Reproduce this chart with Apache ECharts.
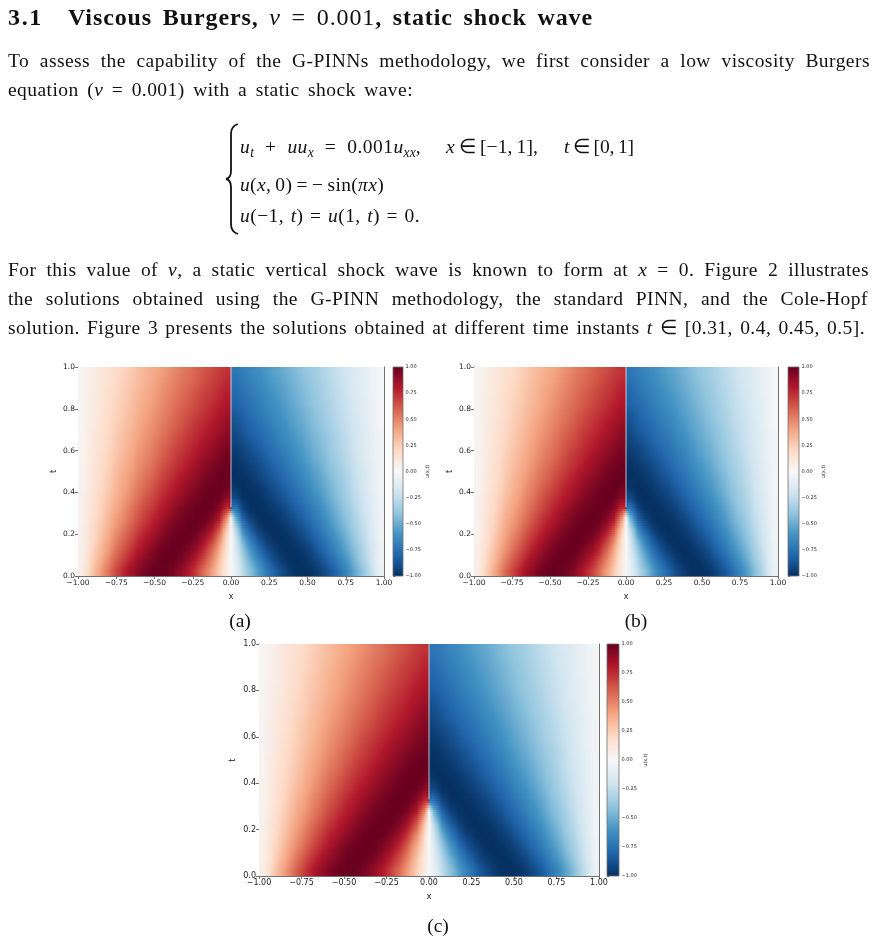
<!DOCTYPE html>
<html><head><meta charset="utf-8">
<script src="https://cdn.jsdelivr.net/npm/echarts/dist/echarts.min.js"></script>
<style>
html,body{margin:0;padding:0;background:#fff;}
#page{position:relative;width:878px;height:944px;overflow:hidden;background:#fff;}
#chart{position:absolute;left:0;top:0;width:878px;height:944px;z-index:1;}
.ln{position:absolute;z-index:2;white-space:nowrap;font-family:"Liberation Serif","Times New Roman",serif;
    font-size:19.5px;line-height:19.5px;letter-spacing:0.45px;color:#111;}
.ln sub{font-size:0.7em;line-height:0;vertical-align:-0.28em;letter-spacing:0;}
.hd{font-size:24px;line-height:24px;font-weight:bold;letter-spacing:0.9px;}
.hd m{font-weight:normal;}
.cap{position:absolute;z-index:2;text-align:center;font-family:"Liberation Serif","Times New Roman",serif;font-size:19.5px;line-height:19.5px;color:#111;}
svg{position:absolute;left:0;top:0;z-index:2;}
</style></head>
<body><div id="page">
<div id="chart"></div>

<div class="ln hd" data-w="35" style="left:8px;top:5px;">3.1</div>
<div class="ln hd" data-w="525" style="left:68px;top:5px;">Viscous Burgers, <m><i>ν</i></m> <m>=</m> <m>0.001</m>, static shock wave</div>

<div class="ln" data-w="862" style="left:8px;top:51px;">To assess the capability of the G-PINNs methodology, we first consider a low viscosity Burgers</div>
<div class="ln" data-w="405" style="left:8px;top:80px;">equation (<i>ν</i> = 0.001) with a static shock wave:</div>

<svg width="878" height="944"><path d="M238 124 Q231 126 231 134 L231 171 Q231 178 226 179 Q231 180 231 187 L231 224 Q231 232 238 234" stroke="#111" stroke-width="1.8" fill="none"/></svg>
<div class="ln" data-w="181" style="left:240px;top:137px;"><i>u<sub>t</sub></i> + <i>uu<sub>x</sub></i> = 0.001<i>u<sub>xx</sub></i>,</div>
<div class="ln" data-w="92" style="left:446px;top:137px;"><i>x</i> ∈ [−1, 1],</div>
<div class="ln" data-w="70" style="left:564px;top:137px;"><i>t</i> ∈ [0, 1]</div>
<div class="ln" data-w="144" style="left:240px;top:175px;"><i>u</i>(<i>x</i>, 0) = − sin(<i>πx</i>)</div>
<div class="ln" data-w="180" style="left:240px;top:206px;"><i>u</i>(−1, <i>t</i>) = <i>u</i>(1, <i>t</i>) = 0.</div>

<div class="ln" data-w="861" style="left:8px;top:260px;">For this value of <i>ν</i>, a static vertical shock wave is known to form at <i>x</i> = 0. Figure 2 illustrates</div>
<div class="ln" data-w="860" style="left:8px;top:289px;">the solutions obtained using the G-PINN methodology, the standard PINN, and the Cole-Hopf</div>
<div class="ln" data-w="857" style="left:8px;top:318px;">solution. Figure 3 presents the solutions obtained at different time instants <i>t</i> ∈ [0.31, 0.4, 0.45, 0.5].</div>

<div class="cap" style="left:210px;top:611px;width:60px;">(a)</div>
<div class="cap" style="left:606px;top:611px;width:60px;">(b)</div>
<div class="cap" style="left:408px;top:916px;width:60px;">(c)</div>
</div>
<script>
// ---------------- data ----------------
const xCols = [-0.975,-0.925,-0.875,-0.825,-0.775,-0.725,-0.675,-0.625,-0.575,-0.525,-0.475,-0.425,-0.375,-0.325,-0.275,-0.225,-0.175,-0.125,-0.075,-0.025,
               0.025,0.075,0.125,0.175,0.225,0.275,0.325,0.375,0.425,0.475,0.525,0.575,0.625,0.675,0.725,0.775,0.825,0.875,0.925,0.975];
const tRows = [0.025,0.075,0.125,0.175,0.225,0.275,0.325,0.375,0.425,0.475,0.525,0.575,0.625,0.675,0.725,0.775,0.825,0.875,0.925,0.975];
// u(x,t), one row per t (ascending), one column per x
const uField = [
 [0.07,0.22,0.36,0.49,0.61,0.72,0.82,0.89,0.95,0.99,1.00,0.99,0.95,0.89,0.80,0.69,0.56,0.41,0.25,0.08,-0.08,-0.25,-0.41,-0.56,-0.69,-0.80,-0.89,-0.95,-0.99,-1.00,-0.99,-0.95,-0.89,-0.82,-0.72,-0.61,-0.49,-0.36,-0.22,-0.07],
 [0.06,0.19,0.31,0.43,0.55,0.65,0.75,0.83,0.90,0.95,0.99,1.00,0.99,0.95,0.88,0.78,0.65,0.49,0.30,0.10,-0.10,-0.30,-0.49,-0.65,-0.78,-0.88,-0.95,-0.99,-1.00,-0.99,-0.95,-0.90,-0.83,-0.75,-0.65,-0.55,-0.43,-0.31,-0.19,-0.06],
 [0.06,0.17,0.28,0.39,0.49,0.59,0.68,0.77,0.84,0.91,0.96,0.99,1.00,0.99,0.94,0.87,0.75,0.58,0.37,0.13,-0.13,-0.37,-0.58,-0.75,-0.87,-0.94,-0.99,-1.00,-0.99,-0.96,-0.91,-0.84,-0.77,-0.68,-0.59,-0.49,-0.39,-0.28,-0.17,-0.06],
 [0.05,0.15,0.25,0.35,0.45,0.54,0.63,0.71,0.79,0.85,0.91,0.96,0.99,1.00,0.99,0.94,0.85,0.70,0.48,0.17,-0.17,-0.48,-0.70,-0.85,-0.94,-0.99,-1.00,-0.99,-0.96,-0.91,-0.85,-0.79,-0.71,-0.63,-0.54,-0.45,-0.35,-0.25,-0.15,-0.05],
 [0.05,0.14,0.23,0.32,0.41,0.49,0.58,0.66,0.73,0.80,0.86,0.92,0.96,0.99,1.00,0.99,0.94,0.83,0.63,0.26,-0.26,-0.63,-0.83,-0.94,-0.99,-1.00,-0.99,-0.96,-0.92,-0.86,-0.80,-0.73,-0.66,-0.58,-0.49,-0.41,-0.32,-0.23,-0.14,-0.05],
 [0.04,0.13,0.21,0.29,0.38,0.45,0.53,0.61,0.68,0.75,0.81,0.87,0.92,0.96,0.99,1.00,0.99,0.93,0.80,0.45,-0.45,-0.80,-0.93,-0.99,-1.00,-0.99,-0.96,-0.92,-0.87,-0.81,-0.75,-0.68,-0.61,-0.53,-0.45,-0.38,-0.29,-0.21,-0.13,-0.04],
 [0.04,0.12,0.19,0.27,0.35,0.42,0.50,0.57,0.64,0.70,0.77,0.82,0.88,0.93,0.96,0.99,1.00,0.99,0.92,0.74,-0.74,-0.92,-0.99,-1.00,-0.99,-0.96,-0.93,-0.88,-0.82,-0.77,-0.70,-0.64,-0.57,-0.50,-0.42,-0.35,-0.27,-0.19,-0.12,-0.04],
 [0.04,0.11,0.18,0.25,0.32,0.39,0.46,0.53,0.60,0.66,0.72,0.78,0.83,0.88,0.93,0.96,0.99,1.00,0.99,0.91,-0.91,-0.99,-1.00,-0.99,-0.96,-0.93,-0.88,-0.83,-0.78,-0.72,-0.66,-0.60,-0.53,-0.46,-0.39,-0.32,-0.25,-0.18,-0.11,-0.04],
 [0.03,0.10,0.17,0.23,0.30,0.37,0.43,0.50,0.56,0.62,0.68,0.74,0.79,0.84,0.89,0.93,0.97,0.99,1.00,0.98,-0.98,-1.00,-0.99,-0.97,-0.93,-0.89,-0.84,-0.79,-0.74,-0.68,-0.62,-0.56,-0.50,-0.43,-0.37,-0.30,-0.23,-0.17,-0.10,-0.03],
 [0.03,0.10,0.16,0.22,0.28,0.35,0.41,0.47,0.53,0.58,0.64,0.70,0.75,0.80,0.85,0.89,0.93,0.97,0.99,1.00,-1.00,-0.99,-0.97,-0.93,-0.89,-0.85,-0.80,-0.75,-0.70,-0.64,-0.58,-0.53,-0.47,-0.41,-0.35,-0.28,-0.22,-0.16,-0.10,-0.03],
 [0.03,0.09,0.15,0.21,0.27,0.33,0.38,0.44,0.50,0.55,0.61,0.66,0.71,0.76,0.81,0.86,0.90,0.94,0.97,0.99,-0.99,-0.97,-0.94,-0.90,-0.86,-0.81,-0.76,-0.71,-0.66,-0.61,-0.55,-0.50,-0.44,-0.38,-0.33,-0.27,-0.21,-0.15,-0.09,-0.03],
 [0.03,0.08,0.14,0.20,0.25,0.31,0.36,0.42,0.47,0.52,0.57,0.63,0.68,0.73,0.77,0.82,0.86,0.90,0.94,0.97,-0.97,-0.94,-0.90,-0.86,-0.82,-0.77,-0.73,-0.68,-0.63,-0.57,-0.52,-0.47,-0.42,-0.36,-0.31,-0.25,-0.20,-0.14,-0.08,-0.03],
 [0.03,0.08,0.13,0.19,0.24,0.29,0.34,0.40,0.45,0.50,0.55,0.60,0.65,0.69,0.74,0.78,0.83,0.87,0.91,0.94,-0.94,-0.91,-0.87,-0.83,-0.78,-0.74,-0.69,-0.65,-0.60,-0.55,-0.50,-0.45,-0.40,-0.34,-0.29,-0.24,-0.19,-0.13,-0.08,-0.03],
 [0.03,0.08,0.13,0.18,0.23,0.28,0.33,0.38,0.43,0.47,0.52,0.57,0.62,0.66,0.71,0.75,0.79,0.83,0.87,0.91,-0.91,-0.87,-0.83,-0.79,-0.75,-0.71,-0.66,-0.62,-0.57,-0.52,-0.47,-0.43,-0.38,-0.33,-0.28,-0.23,-0.18,-0.13,-0.08,-0.03],
 [0.02,0.07,0.12,0.17,0.22,0.26,0.31,0.36,0.41,0.45,0.50,0.54,0.59,0.63,0.68,0.72,0.76,0.80,0.84,0.88,-0.88,-0.84,-0.80,-0.76,-0.72,-0.68,-0.63,-0.59,-0.54,-0.50,-0.45,-0.41,-0.36,-0.31,-0.26,-0.22,-0.17,-0.12,-0.07,-0.02],
 [0.02,0.07,0.11,0.16,0.21,0.25,0.30,0.34,0.39,0.43,0.48,0.52,0.56,0.61,0.65,0.69,0.73,0.77,0.81,0.85,-0.85,-0.81,-0.77,-0.73,-0.69,-0.65,-0.61,-0.56,-0.52,-0.48,-0.43,-0.39,-0.34,-0.30,-0.25,-0.21,-0.16,-0.11,-0.07,-0.02],
 [0.02,0.07,0.11,0.15,0.20,0.24,0.28,0.33,0.37,0.41,0.45,0.50,0.54,0.58,0.62,0.66,0.70,0.74,0.78,0.81,-0.81,-0.78,-0.74,-0.70,-0.66,-0.62,-0.58,-0.54,-0.50,-0.45,-0.41,-0.37,-0.33,-0.28,-0.24,-0.20,-0.15,-0.11,-0.07,-0.02],
 [0.02,0.06,0.10,0.15,0.19,0.23,0.27,0.31,0.36,0.40,0.44,0.48,0.52,0.56,0.60,0.64,0.68,0.71,0.75,0.79,-0.79,-0.75,-0.71,-0.68,-0.64,-0.60,-0.56,-0.52,-0.48,-0.44,-0.40,-0.36,-0.31,-0.27,-0.23,-0.19,-0.15,-0.10,-0.06,-0.02],
 [0.02,0.06,0.10,0.14,0.18,0.22,0.26,0.30,0.34,0.38,0.42,0.46,0.50,0.54,0.57,0.61,0.65,0.69,0.72,0.76,-0.76,-0.72,-0.69,-0.65,-0.61,-0.57,-0.54,-0.50,-0.46,-0.42,-0.38,-0.34,-0.30,-0.26,-0.22,-0.18,-0.14,-0.10,-0.06,-0.02],
 [0.02,0.06,0.10,0.14,0.17,0.21,0.25,0.29,0.33,0.37,0.40,0.44,0.48,0.52,0.55,0.59,0.63,0.66,0.70,0.73,-0.73,-0.70,-0.66,-0.63,-0.59,-0.55,-0.52,-0.48,-0.44,-0.40,-0.37,-0.33,-0.29,-0.25,-0.21,-0.17,-0.14,-0.10,-0.06,-0.02]
];
// thin viscous shock layer (u ≈ 0) seen along x = 0 once the shock has formed
const shockLine = [[0, 0.33], [0, 1.0]];
const xTickStep = 0.25, tTickStep = 0.2, cbTickStep = 0.25;
const panelFields = [uField, uField, uField];   // (a) G-PINN, (b) PINN, (c) Cole-Hopf

// ---------------- layout / style ----------------
const RDBU_R = ['#053061','#2166ac','#4393c3','#92c5de','#d1e5f0','#f7f7f7','#fddbc7','#f4a582','#d6604d','#b2182b','#67001f'];
const RGB = RDBU_R.map(h => [1, 3, 5].map(i => parseInt(h.substr(i, 2), 16)));
const AX = '#707070', TXT = '#222', FONT = 'DejaVu Sans';
const layout = [
  {g:{left:78, top:367, width:306, height:209}, cb:{left:393, top:367, width:10, height:209}, fs:7.5, xGap:17, yGap:20, cGap:21},
  {g:{left:474, top:367, width:304, height:209}, cb:{left:788, top:367, width:11, height:209}, fs:7.5, xGap:17, yGap:20, cGap:22},
  {g:{left:259, top:644, width:340, height:232}, cb:{left:607, top:644, width:12, height:232}, fs:8, xGap:16, yGap:22, cGap:24}
];
const minus = s => s.replace('-', '\u2212');
const DX = xCols[1] - xCols[0], DT = tRows[1] - tRows[0];
const STEP_PX = 2, JUMP = 1.0;

function cmap(v) {
  const p = (Math.max(-1, Math.min(1, v)) + 1) / 2 * (RGB.length - 1);
  const i = Math.min(Math.floor(p), RGB.length - 2), f = p - i;
  const a = RGB[i], b = RGB[i + 1];
  return 'rgb(' + [0, 1, 2].map(k => Math.round(a[k] + (b[k] - a[k]) * f)).join(',') + ')';
}
// smooth (gouraud-like) shading inside each cell, without blending across the shock
function profile(F, r, c) {
  const v = F[r][c];
  const edge = s => {
    const c2 = c + s;
    if (c2 < 0 || c2 >= F[r].length) return v;
    const w = F[r][c2];
    return Math.abs(w - v) < JUMP ? (v + w) / 2 : v;
  };
  return [edge(-1), v, edge(1)];
}
function makeRenderer(F) {
  const nC = xCols.length, nR = tRows.length;
  return function (params, api) {
    const idx = params.dataIndex, r = Math.floor(idx / nC), c = idx % nC;
    const x = api.value(0), t = api.value(1);
    const p0 = api.coord([x - DX / 2, t + DT / 2]);
    const p1 = api.coord([x + DX / 2, t - DT / 2]);
    const X0 = Math.round(p0[0]), X1 = Math.round(p1[0]), Y0 = Math.round(p0[1]), Y1 = Math.round(p1[1]);
    const own = profile(F, r, c);
    const kids = [];
    for (let y = Y0; y < Y1; y += STEP_PX) {
      const y1 = Math.min(Y1, y + STEP_PX);
      const s = ((y + y1) / 2 - p0[1]) / (p1[1] - p0[1]);   // 0 = top of cell
      const d = 0.5 - s;
      const rn = Math.max(0, Math.min(nR - 1, r + (d > 0 ? 1 : -1)));
      const nb = profile(F, rn, c), wt = Math.min(0.5, Math.abs(d));
      const vals = own.map((v, i) => (1 - wt) * v + wt * nb[i]);
      kids.push({type:'rect', shape:{x:X0, y:y, width:X1 - X0, height:y1 - y},
        style:{fill:new echarts.graphic.LinearGradient(0, 0, 1, 0, [
          {offset:0, color:cmap(vals[0])}, {offset:0.5, color:cmap(vals[1])}, {offset:1, color:cmap(vals[2])}])}});
    }
    return {type:'group', children:kids};
  };
}
function renderBar(params, api) {
  const cs = params.coordSys;
  const stops = RDBU_R.slice().reverse().map((c, i) => ({offset: i / (RDBU_R.length - 1), color: c}));
  return {type:'rect', shape:{x:cs.x, y:cs.y, width:cs.width, height:cs.height},
          style:{fill: new echarts.graphic.LinearGradient(0, 0, 0, 1, stops), stroke: AX, lineWidth: 0.8}};
}
function cells(field) {
  const out = [];
  tRows.forEach((t, r) => xCols.forEach((x, c) => out.push([x, t, field[r][c]])));
  return out;
}

const grids = [], xAxes = [], yAxes = [], series = [];
layout.forEach((L, i) => {
  const gi = grids.length;
  grids.push(Object.assign({containLabel:false}, L.g));
  const line = {show:true, onZero:false, lineStyle:{color:AX, width:1}};
  xAxes.push({gridIndex:gi, type:'value', min:-1, max:1, interval:xTickStep, position:'bottom',
    axisLine:line, axisTick:{show:true, length:3, lineStyle:{color:AX}}, splitLine:{show:false},
    axisLabel:{fontFamily:FONT, fontSize:L.fs, color:TXT, margin:3, formatter:v => minus(v.toFixed(2))},
    name:'x', nameLocation:'middle', nameGap:L.xGap, nameTextStyle:{fontFamily:FONT, fontSize:L.fs + 0.5, color:TXT}});
  const xb = xAxes.length - 1;
  xAxes.push({gridIndex:gi, type:'value', min:-1, max:1, position:'top', axisLine:line,
    axisTick:{show:false}, axisLabel:{show:false}, splitLine:{show:false}});
  yAxes.push({gridIndex:gi, type:'value', min:0, max:1, interval:tTickStep, position:'left',
    axisLine:line, axisTick:{show:true, length:3, lineStyle:{color:AX}}, splitLine:{show:false},
    axisLabel:{fontFamily:FONT, fontSize:L.fs, color:TXT, margin:3, formatter:v => v.toFixed(1)},
    name:'t', nameLocation:'middle', nameGap:L.yGap, nameRotate:90, nameTextStyle:{fontFamily:FONT, fontSize:L.fs + 0.5, color:TXT}});
  const yl = yAxes.length - 1;
  yAxes.push({gridIndex:gi, type:'value', min:0, max:1, position:'right', axisLine:line,
    axisTick:{show:false}, axisLabel:{show:false}, splitLine:{show:false}});
  series.push({type:'custom', name:'u' + i, xAxisIndex:xb, yAxisIndex:yl, renderItem:makeRenderer(panelFields[i]),
    data:cells(panelFields[i]), clip:true, silent:true, z:1});
  series.push({type:'line', xAxisIndex:xb, yAxisIndex:yl, data:shockLine, symbol:'none', silent:true, z:2,
    lineStyle:{color:'rgba(240,240,240,0.75)', width:1}});

  // colorbar
  const ci = grids.length;
  grids.push(Object.assign({containLabel:false}, L.cb));
  xAxes.push({gridIndex:ci, type:'value', min:0, max:1, show:false});
  yAxes.push({gridIndex:ci, type:'value', min:-1, max:1, interval:cbTickStep, position:'right',
    axisLine:{show:false}, axisTick:{show:true, length:2.5, lineStyle:{color:AX}}, splitLine:{show:false},
    axisLabel:{fontFamily:FONT, fontSize:5, color:TXT, margin:2.5, formatter:v => minus(v.toFixed(2))},
    name:'u(x,t)', nameLocation:'middle', nameGap:L.cGap, nameRotate:90, nameTextStyle:{fontFamily:FONT, fontSize:5, color:TXT}});
  series.push({type:'custom', xAxisIndex:xAxes.length - 1, yAxisIndex:yAxes.length - 1, renderItem:renderBar,
    data:[[0.5, 0]], silent:true, z:1});
});

const chart = echarts.init(document.getElementById('chart'), null, {renderer:'canvas'});
chart.setOption({animation:false, backgroundColor:'transparent', grid:grids, xAxis:xAxes, yAxis:yAxes, series:series});

// justify each text line to its measured width in the reference
document.querySelectorAll('.ln').forEach(el => {
  const target = parseFloat(el.dataset.w);
  let natural = el.getBoundingClientRect().width;
  const chars = el.textContent.length;
  const n = (el.textContent.match(/ /g) || []).length;
  let ws = n > 0 ? (target - natural) / n : 0;
  if (n === 0 || ws < -1) {            // too wide: tighten letters first
    const ls = parseFloat(getComputedStyle(el).letterSpacing) || 0;
    el.style.letterSpacing = (ls + (target - natural - (n > 0 ? -n : 0)) / chars).toFixed(2) + 'px';
    natural = el.getBoundingClientRect().width;
    ws = n > 0 ? (target - natural) / n : 0;
  }
  if (n > 0) el.style.wordSpacing = ws.toFixed(2) + 'px';
});
</script>
</body></html>
